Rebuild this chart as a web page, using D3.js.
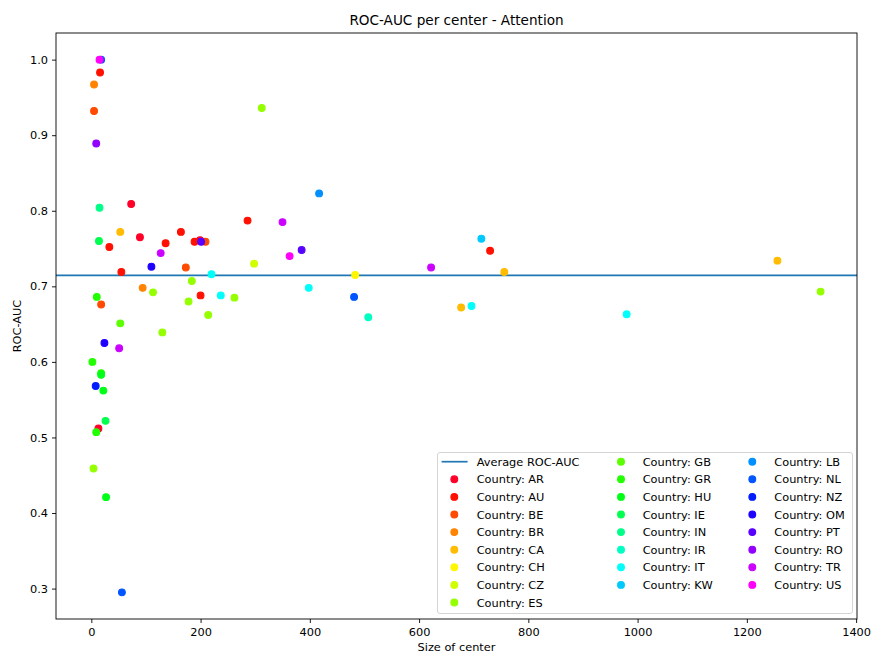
<!DOCTYPE html>
<html>
<head>
<meta charset="utf-8">
<script src="https://cdn.jsdelivr.net/npm/d3@7"></script>
<style>
  html, body { margin: 0; padding: 0; background: #fff; }
  svg { display: block; font-family: "DejaVu Sans", sans-serif; }
</style>
</head>
<body>
<svg id="chart" width="872" height="654"></svg>
<script>
// Countries, in plotting order (colour index follows this order)
const countries = ["AR","AU","BE","BR","CA","CH","CZ","ES","GB","GR","HU","IE",
                   "IN","IR","IT","KW","LB","NL","NZ","OM","PT","RO","TR","US"];

// One entry per center: country, center size and ROC-AUC
const centerCountry = [
  "AR","AR","AR","AR",
  "AU","AU","AU","AU","AU","AU","AU","AU","AU",
  "BE","BE","BE","BE",
  "BR","BR",
  "CA","CA","CA","CA",
  "CH",
  "CZ",
  "ES","ES","ES","ES","ES","ES","ES","ES","ES",
  "GB",
  "GR","GR","GR","GR",
  "HU","HU","HU",
  "IE","IE",
  "IN",
  "IR",
  "IT","IT","IT","IT","IT",
  "KW",
  "LB",
  "NL","NL","NL",
  "NZ",
  "OM","OM",
  "PT","PT",
  "RO",
  "TR","TR","TR","TR",
  "US","US"
];
const centerSize = [
  73, 89, 199, 13,
  16, 286, 164, 33, 136, 189, 55, 200, 730,
  5, 209, 173, 18,
  5, 94,
  53, 756, 1256, 677,
  483,
  298,
  312, 184, 113, 262, 178, 214, 130, 4, 1335,
  53,
  10, 2, 18, 9,
  18, 22, 27,
  14, 26,
  15,
  507,
  220, 237, 398, 696, 980,
  714,
  417,
  18, 481, 56,
  8,
  110, 24,
  201, 385,
  9,
  127, 350, 51, 622,
  15, 363
];
const centerAuc = [
  0.809, 0.765, 0.761, 0.512,
  0.983, 0.787, 0.772, 0.752, 0.757, 0.759, 0.719, 0.688, 0.747,
  0.932, 0.759, 0.725, 0.676,
  0.967, 0.698,
  0.772, 0.719, 0.734, 0.672,
  0.715,
  0.730,
  0.936, 0.707, 0.692, 0.685, 0.680, 0.662, 0.639, 0.459, 0.693,
  0.651,
  0.686, 0.600, 0.585, 0.507,
  0.583, 0.562, 0.421,
  0.760, 0.522,
  0.804,
  0.659,
  0.716, 0.688, 0.698, 0.674, 0.663,
  0.763,
  0.823,
  1.000, 0.686, 0.295,
  0.568,
  0.726, 0.625,
  0.759, 0.748,
  0.889,
  0.744, 0.785, 0.618, 0.725,
  1.000, 0.740
];

const avgRocAuc = 0.7145;

const xTicks = [0, 200, 400, 600, 800, 1000, 1200, 1400];
const yTicks = [0.3, 0.4, 0.5, 0.6, 0.7, 0.8, 0.9, 1.0];

// gist_rainbow colormap stops
const rainbowPos = [0.000, 0.030, 0.215, 0.400, 0.586, 0.770, 0.954, 1.000];
const rainbowCol = ["#ff0029", "#ff0000", "#ffff00", "#00ff00", "#00ffff", "#0000ff", "#ff00ff", "#ff00bf"];

const svg = d3.select("#chart");
const m = { left: 56, right: 857, top: 33, bottom: 619 };

const rainbow = d3.scaleLinear().domain(rainbowPos).range(rainbowCol).interpolate(d3.interpolateRgb);
const color = d3.scaleOrdinal().domain(countries)
  .range(countries.map((c, i) => rainbow(i / countries.length)));

function padded(ext) {
  const r = ext[1] - ext[0];
  return [ext[0] - 0.05 * r, ext[1] + 0.05 * r];
}
const x = d3.scaleLinear().domain(padded(d3.extent(centerSize))).range([m.left, m.right]);
const y = d3.scaleLinear().domain(padded(d3.extent(centerAuc))).range([m.bottom, m.top]);

const fs = 11.35;

// Plot area background
svg.append("rect")
  .attr("x", m.left).attr("y", m.top)
  .attr("width", m.right - m.left).attr("height", m.bottom - m.top)
  .attr("fill", "#fff").attr("stroke", "none");

// Average line
svg.append("line")
  .attr("x1", m.left).attr("x2", m.right)
  .attr("y1", y(avgRocAuc)).attr("y2", y(avgRocAuc))
  .attr("stroke", "#1f77b4").attr("stroke-width", 1.7);

// Points, drawn country by country
const points = centerCountry.map((c, i) => ({ c, s: centerSize[i], a: centerAuc[i], k: countries.indexOf(c) }))
  .sort((p, q) => p.k - q.k);
svg.append("g").selectAll("circle").data(points).join("circle")
  .attr("cx", d => x(d.s)).attr("cy", d => y(d.a))
  .attr("r", 3.4)
  .attr("fill", d => color(d.c))
  .attr("stroke", d => color(d.c)).attr("stroke-width", 1.1);

// Axes
const xAxis = d3.axisBottom(x).tickValues(xTicks).tickFormat(d3.format("d")).tickSize(4).tickPadding(4);
const yAxis = d3.axisLeft(y).tickValues(yTicks).tickFormat(d3.format(".1f")).tickSize(4).tickPadding(4);

const gx = svg.append("g").attr("transform", `translate(0,${m.bottom})`).call(xAxis);
const gy = svg.append("g").attr("transform", `translate(${m.left},0)`).call(yAxis);
[gx, gy].forEach(g => {
  g.select(".domain").remove();
  g.selectAll(".tick line").attr("stroke", "#000").attr("stroke-width", 0.9);
  g.selectAll(".tick text").attr("fill", "#000").style("font-size", fs + "px")
    .style("font-family", "DejaVu Sans");
});
gx.selectAll(".tick text").attr("y", 8).attr("dy", "0.75em");

svg.append("rect")
  .attr("x", m.left).attr("y", m.top)
  .attr("width", m.right - m.left).attr("height", m.bottom - m.top)
  .attr("fill", "none").attr("stroke", "#000").attr("stroke-width", 0.9);

// Titles
svg.append("text").attr("x", (m.left + m.right) / 2).attr("y", 25)
  .attr("text-anchor", "middle").style("font-size", "13.6px")
  .text("ROC-AUC per center - Attention");
svg.append("text").attr("x", (m.left + m.right) / 2).attr("y", 651)
  .attr("text-anchor", "middle").style("font-size", fs + "px")
  .text("Size of center");
svg.append("text")
  .attr("transform", `translate(21,${(m.top + m.bottom) / 2}) rotate(-90)`)
  .attr("text-anchor", "middle").style("font-size", fs + "px")
  .text("ROC-AUC");

// Legend
const lg = svg.append("g");
lg.append("rect")
  .attr("x", 437.5).attr("y", 452.5).attr("width", 415).attr("height", 161)
  .attr("rx", 2.5).attr("fill", "#fff").attr("fill-opacity", 0.8)
  .attr("stroke", "#d0d0d0").attr("stroke-width", 0.9);

const entries = [{ label: "Average ROC-AUC", line: true }]
  .concat(countries.map(c => ({ label: "Country: " + c, c })));
const colSizes = [9, 8, 8];
const colMarkerX = [454.3, 621, 752.3];
const colTextX = [476.7, 642.7, 774.3];
const rowY0 = 461.7, rowStep = 17.6;
let idx = 0;
colSizes.forEach((n, col) => {
  for (let r = 0; r < n; r++, idx++) {
    const e = entries[idx];
    const cy = rowY0 + r * rowStep;
    if (e.line) {
      lg.append("line").attr("x1", colMarkerX[col] - 12.7).attr("x2", colMarkerX[col] + 13.3)
        .attr("y1", cy).attr("y2", cy).attr("stroke", "#1f77b4").attr("stroke-width", 1.7);
    } else {
      lg.append("circle").attr("cx", colMarkerX[col]).attr("cy", cy).attr("r", 3.4)
        .attr("fill", color(e.c)).attr("stroke", color(e.c)).attr("stroke-width", 1.1);
    }
    lg.append("text").attr("x", colTextX[col]).attr("y", cy).attr("dy", "0.36em")
      .style("font-size", fs + "px").text(e.label);
  }
});
</script>
</body>
</html>
